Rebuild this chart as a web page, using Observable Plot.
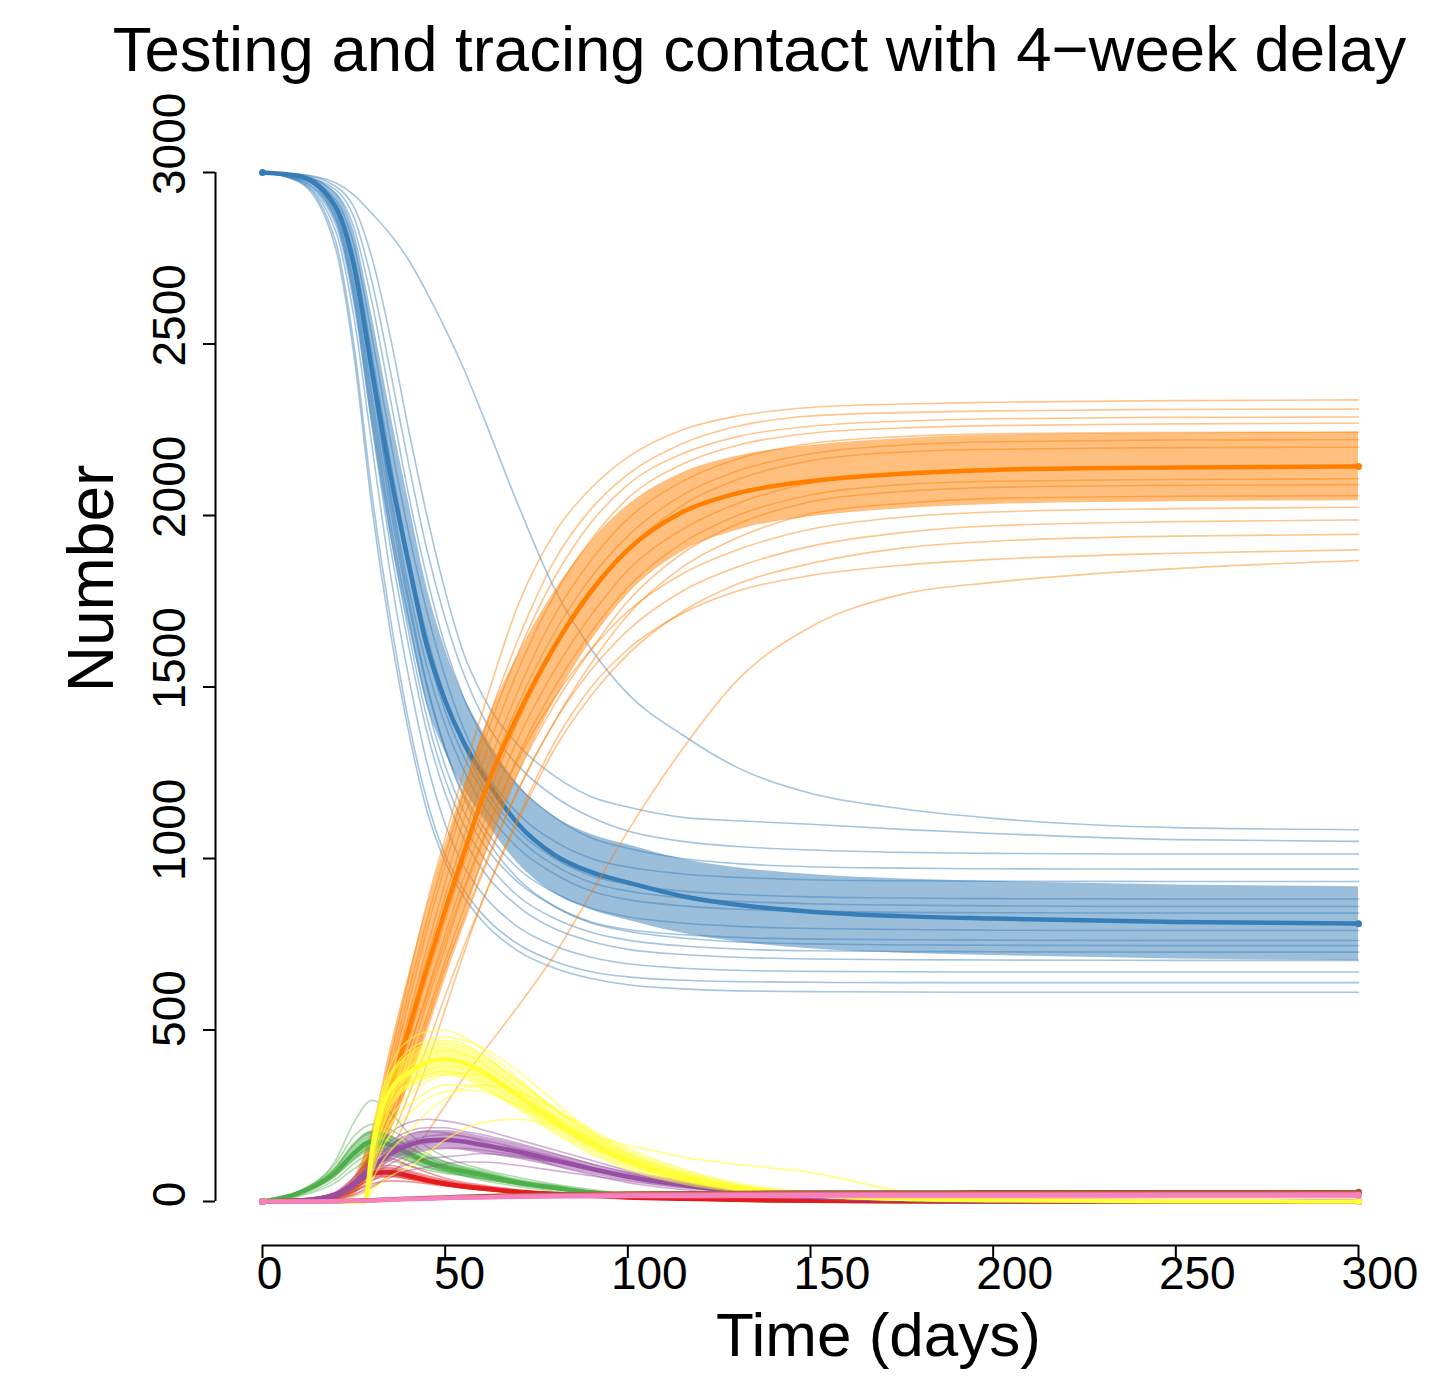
<!DOCTYPE html>
<html>
<head>
<meta charset="utf-8">
<script src="https://cdn.jsdelivr.net/npm/d3@7"></script>
<script src="https://cdn.jsdelivr.net/npm/@observablehq/plot@0.6"></script>
<style>
  html, body { margin: 0; padding: 0; background: #ffffff; }
  #chart svg { display: block; }
</style>
</head>
<body>
<div id="chart"></div>
<script>
// Sample days shared by most compartments
const days = [0, 10, 20, 25, 30, 35, 40, 45, 50, 55, 60, 70, 80, 90, 100, 115, 130, 150, 175, 200, 250, 300];
// The yellow compartment only starts once testing begins (day 28)
const yellowDays = [0, 27, 28, 30, 33, 36, 40, 45, 50, 55, 60, 70, 80, 90, 100, 115, 130, 150, 175, 200, 250, 300];

const xTicks = [0, 50, 100, 150, 200, 250, 300];
const yTicks = [0, 500, 1000, 1500, 2000, 2500, 3000];

const titleText = "Testing and tracing contact with 4\u2212week delay";
const xLabel = "Time (days)";
const yLabel = "Number";

// ---- red compartment ----
const redMean = [0, 3, 20, 50, 82, 85, 75, 62, 52, 44, 38, 28, 22, 17, 12, 8, 5, 2, 1, 0, 0, 0];
const redSd = [0, 1, 5, 10, 14, 14, 12, 10, 9, 8, 7, 5, 4, 3, 2, 1, 1, 0, 0, 0, 0, 0];
const redRuns = [
  [0, 4, 28, 70, 120, 125, 105, 85, 68, 56, 48, 34, 25, 18, 12, 7, 4, 2, 1, 0, 0, 0],
  [0, 3, 24, 60, 100, 105, 90, 75, 62, 52, 44, 31, 23, 16, 11, 7, 4, 2, 1, 0, 0, 0],
  [0, 3, 20, 50, 82, 88, 78, 65, 55, 47, 40, 29, 21, 15, 10, 6, 3, 1, 0, 0, 0, 0],
  [0, 2, 15, 38, 65, 72, 66, 57, 49, 42, 36, 26, 19, 14, 9, 5, 3, 1, 0, 0, 0, 0],
  [0, 2, 12, 30, 52, 60, 58, 52, 45, 39, 34, 25, 18, 13, 9, 5, 3, 1, 0, 0, 0, 0],
  [0, 3, 22, 55, 90, 80, 70, 62, 55, 48, 42, 32, 24, 17, 11, 6, 3, 1, 0, 0, 0, 0]
];

// ---- blue compartment ----
const blueMean = [3000, 2990, 2900, 2730, 2420, 2120, 1860, 1620, 1460, 1340, 1250, 1100, 1010, 960, 930, 890, 865, 845, 832, 825, 815, 810];
const blueSd = [0, 4, 40, 100, 160, 180, 180, 170, 150, 135, 125, 115, 112, 110, 110, 108, 108, 108, 108, 108, 108, 108];
const blueRuns = [
  [3000, 2995, 2970, 2935, 2880, 2820, 2745, 2650, 2545, 2430, 2300, 2030, 1785, 1610, 1480, 1360, 1265, 1190, 1145, 1117, 1090, 1084],
  [3000, 2995, 2960, 2900, 2750, 2520, 2250, 2000, 1780, 1600, 1480, 1330, 1240, 1180, 1150, 1120, 1110, 1100, 1085, 1073, 1055, 1050],
  [3000, 2992, 2950, 2870, 2680, 2420, 2150, 1900, 1700, 1540, 1420, 1270, 1180, 1120, 1080, 1050, 1035, 1025, 1018, 1015, 1013, 1013],
  [3000, 2990, 2940, 2840, 2620, 2340, 2060, 1820, 1620, 1470, 1360, 1210, 1120, 1060, 1030, 1000, 985, 976, 972, 970, 969, 969],
  [3000, 2990, 2920, 2790, 2520, 2220, 1950, 1720, 1530, 1380, 1270, 1130, 1050, 1000, 975, 955, 945, 938, 935, 934, 933, 933],
  [3000, 2988, 2910, 2760, 2470, 2160, 1880, 1650, 1470, 1330, 1220, 1080, 1000, 950, 925, 905, 895, 888, 885, 883, 882, 882],
  [3000, 2990, 2905, 2740, 2440, 2120, 1850, 1610, 1430, 1300, 1200, 1060, 980, 930, 905, 885, 875, 868, 864, 862, 860, 860],
  [3000, 2985, 2890, 2710, 2390, 2070, 1790, 1560, 1390, 1260, 1160, 1030, 955, 905, 880, 862, 852, 846, 843, 842, 841, 841],
  [3000, 2985, 2880, 2680, 2350, 2020, 1740, 1500, 1320, 1190, 1100, 970, 900, 855, 830, 812, 802, 796, 793, 791, 790, 790],
  [3000, 2980, 2870, 2660, 2320, 1980, 1700, 1450, 1270, 1140, 1050, 930, 860, 815, 793, 778, 770, 765, 763, 762, 761, 761],
  [3000, 2983, 2900, 2720, 2400, 2050, 1760, 1510, 1320, 1180, 1080, 940, 860, 812, 788, 768, 757, 751, 748, 747, 746, 746],
  [3000, 2980, 2860, 2640, 2290, 1950, 1660, 1410, 1230, 1100, 1010, 890, 825, 785, 762, 745, 736, 731, 729, 728, 727, 727],
  [3000, 2978, 2850, 2620, 2260, 1910, 1620, 1370, 1190, 1060, 970, 860, 795, 758, 735, 720, 712, 707, 705, 704, 703, 703],
  [3000, 2975, 2830, 2580, 2200, 1830, 1530, 1280, 1100, 980, 900, 800, 745, 712, 693, 680, 674, 671, 670, 669, 669, 669],
  [3000, 2975, 2800, 2500, 2060, 1700, 1400, 1170, 1010, 910, 840, 750, 700, 670, 655, 645, 641, 639, 638, 638, 638, 638],
  [3000, 2972, 2780, 2470, 2020, 1660, 1370, 1140, 990, 890, 820, 730, 680, 650, 632, 620, 614, 612, 611, 610, 610, 610]
];

// ---- green compartment ----
const greenMean = [0, 25, 85, 140, 175, 165, 140, 115, 100, 88, 78, 55, 40, 26, 18, 10, 5, 2, 1, 0, 0, 0];
const greenSd = [0, 4, 15, 25, 30, 28, 24, 20, 17, 15, 13, 10, 8, 6, 4, 3, 2, 1, 0, 0, 0, 0];
const greenRuns = [
  [0, 30, 120, 230, 295, 260, 200, 160, 130, 110, 95, 70, 50, 35, 22, 12, 6, 2, 1, 0, 0, 0],
  [0, 28, 110, 190, 225, 210, 175, 140, 115, 98, 85, 62, 45, 30, 20, 11, 5, 2, 1, 0, 0, 0],
  [0, 25, 95, 165, 200, 190, 160, 130, 108, 92, 80, 58, 42, 28, 18, 10, 5, 2, 1, 0, 0, 0],
  [0, 22, 85, 145, 180, 170, 145, 120, 100, 86, 75, 54, 38, 26, 17, 9, 4, 2, 1, 0, 0, 0],
  [0, 20, 75, 125, 160, 150, 130, 108, 92, 80, 70, 50, 36, 24, 15, 8, 4, 1, 0, 0, 0, 0],
  [0, 18, 65, 110, 140, 135, 118, 100, 88, 78, 68, 50, 36, 24, 15, 8, 4, 1, 0, 0, 0, 0],
  [0, 15, 55, 95, 120, 118, 105, 92, 82, 75, 66, 52, 40, 30, 20, 11, 5, 2, 1, 0, 0, 0],
  [0, 24, 100, 170, 205, 180, 140, 110, 90, 75, 62, 44, 30, 20, 13, 7, 3, 1, 0, 0, 0, 0]
];

// ---- purple compartment ----
const purpleMean = [0, 3, 20, 50, 100, 140, 165, 178, 180, 175, 165, 145, 120, 95, 72, 48, 30, 14, 5, 2, 1, 0];
const purpleSd = [0, 1, 5, 12, 20, 25, 28, 28, 27, 26, 25, 22, 19, 16, 13, 10, 7, 4, 2, 1, 0, 0];
const purpleRuns = [
  [0, 3, 25, 70, 140, 200, 230, 240, 235, 225, 210, 180, 150, 120, 90, 60, 38, 18, 6, 2, 0, 0],
  [0, 3, 22, 60, 120, 175, 205, 215, 215, 205, 195, 170, 140, 110, 85, 55, 35, 16, 5, 2, 0, 0],
  [0, 2, 18, 50, 100, 150, 175, 190, 195, 190, 180, 155, 130, 100, 75, 50, 30, 14, 5, 1, 0, 0],
  [0, 2, 15, 40, 90, 130, 160, 170, 175, 175, 170, 150, 125, 100, 80, 52, 33, 15, 5, 1, 0, 0],
  [0, 2, 12, 35, 75, 110, 135, 150, 155, 155, 150, 135, 115, 92, 70, 46, 28, 12, 4, 1, 0, 0],
  [0, 2, 10, 28, 60, 90, 110, 125, 130, 135, 140, 130, 115, 95, 75, 50, 30, 14, 5, 1, 0, 0],
  [0, 1, 8, 20, 45, 70, 90, 100, 110, 115, 115, 105, 90, 75, 60, 40, 25, 10, 3, 1, 0, 0],
  [0, 3, 20, 55, 110, 165, 195, 205, 200, 190, 175, 140, 105, 78, 55, 35, 20, 9, 3, 1, 0, 0]
];

// ---- orange compartment ----
const orangeMean = [0, 2, 15, 45, 150, 330, 500, 680, 850, 1010, 1170, 1420, 1620, 1780, 1900, 2010, 2065, 2100, 2122, 2133, 2140, 2143];
const orangeSd = [0, 2, 10, 25, 60, 120, 160, 180, 190, 195, 190, 175, 160, 145, 130, 115, 108, 104, 102, 101, 100, 100];
const orangeRuns = [
  [0, 0, 20, 60, 200, 420, 650, 870, 1060, 1250, 1420, 1740, 1950, 2080, 2170, 2250, 2290, 2315, 2325, 2330, 2335, 2337],
  [0, 0, 18, 55, 180, 390, 610, 820, 1010, 1190, 1350, 1640, 1870, 2020, 2120, 2210, 2260, 2290, 2300, 2305, 2309, 2310],
  [0, 0, 15, 50, 170, 370, 580, 790, 980, 1160, 1320, 1600, 1820, 1980, 2090, 2180, 2230, 2260, 2275, 2282, 2286, 2287],
  [0, 0, 15, 45, 150, 340, 540, 740, 930, 1110, 1270, 1550, 1770, 1930, 2050, 2150, 2205, 2240, 2255, 2262, 2267, 2269],
  [0, 0, 14, 45, 150, 330, 520, 710, 890, 1060, 1220, 1490, 1710, 1870, 1990, 2100, 2165, 2210, 2230, 2238, 2242, 2243],
  [0, 0, 12, 40, 140, 310, 500, 680, 860, 1030, 1180, 1450, 1660, 1820, 1940, 2060, 2130, 2180, 2205, 2215, 2220, 2221],
  [0, 0, 12, 40, 130, 290, 470, 650, 820, 980, 1130, 1400, 1610, 1770, 1900, 2030, 2105, 2160, 2185, 2193, 2198, 2199],
  [0, 0, 10, 35, 120, 270, 440, 610, 780, 940, 1090, 1350, 1550, 1710, 1840, 1960, 2035, 2095, 2125, 2135, 2140, 2141],
  [0, 0, 10, 35, 110, 250, 410, 580, 740, 900, 1040, 1300, 1500, 1660, 1790, 1920, 2000, 2060, 2090, 2100, 2105, 2107],
  [0, 0, 10, 30, 100, 230, 380, 540, 700, 850, 990, 1250, 1450, 1610, 1750, 1890, 1975, 2040, 2070, 2082, 2088, 2090],
  [0, 0, 9, 30, 95, 210, 350, 500, 660, 810, 950, 1200, 1400, 1570, 1710, 1850, 1935, 2005, 2035, 2050, 2056, 2058],
  [0, 0, 10, 35, 120, 270, 440, 600, 760, 910, 1050, 1290, 1470, 1610, 1720, 1830, 1900, 1960, 1995, 2010, 2020, 2024],
  [0, 0, 10, 30, 100, 220, 370, 520, 680, 820, 960, 1200, 1400, 1550, 1665, 1780, 1850, 1910, 1950, 1970, 1982, 1987],
  [0, 0, 8, 25, 80, 180, 310, 450, 600, 740, 870, 1110, 1320, 1475, 1595, 1720, 1800, 1860, 1905, 1925, 1940, 1945],
  [0, 0, 8, 20, 60, 140, 260, 400, 560, 720, 870, 1120, 1340, 1500, 1610, 1715, 1780, 1825, 1855, 1872, 1890, 1900],
  [0, 0, 5, 15, 40, 80, 130, 200, 280, 360, 430, 570, 720, 900, 1080, 1320, 1520, 1675, 1770, 1805, 1845, 1869]
];

// ---- yellow compartment (sampled on yellowDays) ----
const yellowMean = [0, 0, 0, 150, 280, 340, 375, 405, 415, 405, 380, 310, 235, 170, 120, 70, 40, 20, 8, 4, 1, 0];
const yellowSd = [0, 0, 0, 40, 50, 50, 50, 50, 50, 50, 50, 45, 40, 35, 30, 22, 15, 8, 4, 2, 1, 0];
const yellowRuns = [
  [0, 0, 0, 170, 330, 420, 470, 495, 500, 480, 445, 360, 270, 190, 130, 75, 40, 18, 6, 2, 0, 0],
  [0, 0, 0, 150, 300, 380, 430, 460, 470, 460, 430, 350, 270, 200, 140, 85, 45, 20, 7, 2, 0, 0],
  [0, 0, 0, 140, 270, 340, 390, 425, 440, 430, 405, 330, 250, 180, 125, 70, 38, 16, 5, 1, 0, 0],
  [0, 0, 0, 130, 250, 320, 365, 400, 415, 405, 380, 310, 240, 170, 115, 65, 35, 15, 5, 1, 0, 0],
  [0, 0, 0, 120, 230, 300, 345, 380, 395, 390, 370, 300, 225, 160, 110, 60, 32, 14, 4, 1, 0, 0],
  [0, 0, 0, 100, 200, 260, 310, 350, 370, 375, 365, 310, 245, 185, 135, 80, 45, 20, 7, 2, 0, 0],
  [0, 0, 0, 90, 180, 240, 280, 320, 340, 340, 330, 280, 220, 160, 110, 65, 35, 15, 5, 1, 0, 0],
  [0, 0, 0, 30, 60, 80, 100, 140, 180, 210, 230, 240, 220, 190, 165, 130, 108, 85, 30, 8, 0, 0],
  [0, 0, 0, 80, 160, 210, 255, 300, 320, 325, 320, 280, 230, 175, 125, 75, 40, 18, 6, 2, 0, 0],
  [0, 0, 0, 60, 120, 160, 200, 260, 300, 330, 340, 320, 270, 210, 155, 95, 50, 22, 8, 2, 0, 0],
  [0, 0, 0, 160, 310, 390, 440, 470, 480, 470, 450, 380, 290, 205, 140, 80, 42, 18, 6, 2, 0, 0],
  [0, 0, 0, 110, 220, 290, 340, 370, 380, 370, 350, 290, 225, 165, 115, 65, 34, 15, 5, 1, 0, 0]
];

// ---- brown compartment ----
const brownMean = [0, 0, 1, 2, 4, 6, 8, 10, 12, 14, 15, 18, 20, 22, 23, 24, 25, 26, 26, 27, 27, 27];
const brownSd = [0, 0, 1, 1, 1, 2, 2, 2, 2, 3, 3, 3, 3, 3, 3, 3, 3, 3, 3, 3, 3, 3];
const brownRuns = [
  [0, 0, 1, 2, 5, 7, 10, 12, 14, 16, 18, 21, 23, 25, 26, 27, 28, 29, 30, 30, 30, 30],
  [0, 0, 1, 1, 3, 5, 7, 9, 11, 12, 13, 16, 18, 20, 21, 22, 23, 24, 24, 25, 25, 25]
];

// ---- pink compartment ----
const pinkMean = [0, 0, 1, 2, 3, 5, 7, 8, 10, 11, 12, 14, 15, 16, 17, 17, 18, 18, 18, 18, 18, 18];
const pinkSd = [0, 0, 1, 1, 2, 3, 4, 5, 5, 6, 6, 7, 8, 9, 9, 10, 10, 10, 10, 10, 10, 10];
const pinkRuns = [
  [0, 0, 1, 2, 4, 6, 9, 11, 13, 15, 16, 18, 20, 21, 22, 23, 24, 24, 25, 25, 25, 25],
  [0, 0, 1, 1, 2, 4, 6, 7, 9, 10, 11, 13, 14, 15, 16, 17, 17, 18, 18, 18, 18, 18],
  [0, 0, 0, 1, 2, 3, 5, 6, 8, 9, 10, 11, 12, 12, 12, 12, 12, 12, 12, 12, 12, 12]
];

// Drawing order: each compartment draws its runs, then its band, then its mean
const compartments = [
  {color: "#377EB8", xs: days, runs: blueRuns, mean: blueMean, sd: blueSd, runOpacity: 0.45},
  {color: "#FF7F00", xs: days, runs: orangeRuns, mean: orangeMean, sd: orangeSd, runOpacity: 0.45},
  {color: "#4DAF4A", xs: days, runs: greenRuns, mean: greenMean, sd: greenSd, runOpacity: 0.45},
  {color: "#E41A1C", xs: days, runs: redRuns, mean: redMean, sd: redSd, runOpacity: 0.45},
  {color: "#984EA3", xs: days, runs: purpleRuns, mean: purpleMean, sd: purpleSd, runOpacity: 0.45},
  {color: "#FFFF33", xs: yellowDays, runs: yellowRuns, mean: yellowMean, sd: yellowSd, runOpacity: 0.6},
  {color: "#A65628", xs: days, runs: brownRuns, mean: brownMean, sd: brownSd, runOpacity: 0.4},
  {color: "#F781BF", xs: days, runs: pinkRuns, mean: pinkMean, sd: pinkSd, runOpacity: 0.5}
];

const curve = "monotone-x";
const dataMarks = compartments.flatMap(c => {
  const runRows = c.runs.flatMap((r, k) => r.map((v, i) => ({day: c.xs[i], value: v, run: k})));
  const meanRows = c.mean.map((v, i) => ({day: c.xs[i], value: v}));
  const bandRows = c.mean.map((v, i) => ({day: c.xs[i], lo: Math.max(0, v - c.sd[i]), hi: v + c.sd[i]}));
  const ends = [meanRows[0], meanRows[meanRows.length - 1]];
  return [
    Plot.line(runRows, {x: "day", y: "value", z: "run", stroke: c.color, strokeOpacity: c.runOpacity, strokeWidth: 1.6, curve}),
    Plot.areaY(bandRows, {x: "day", y1: "lo", y2: "hi", fill: c.color, fillOpacity: 0.5, curve}),
    Plot.line(meanRows, {x: "day", y: "value", stroke: c.color, strokeWidth: 4.5, curve}),
    Plot.dot(ends, {x: "day", y: "value", fill: c.color, r: 3.5})
  ];
});

// approximate advance width of a tick label (digits are 0.556em wide)
const labelWidth = (t, fs) => String(t).length * 0.556 * fs;
const xFont = 46, yFont = 46;

const xTickLabels = xTicks.map(t => Plot.text([t], {
  x: d => d, text: d => String(d), frameAnchor: "bottom", lineAnchor: "bottom",
  dy: 43, dx: 0.28 * labelWidth(t, xFont), fontSize: xFont, fill: "black"
}));
const yTickLabels = yTicks.map(t => Plot.text([t], {
  y: d => d, text: d => String(d), frameAnchor: "left", lineAnchor: "bottom",
  rotate: -90, textAnchor: "middle", dx: -31, dy: -0.28 * labelWidth(t, yFont), fontSize: yFont, fill: "black"
}));

const chart = Plot.plot({
  width: 1449,
  height: 1384,
  marginLeft: 215,
  marginRight: 91,
  marginTop: 172,
  marginBottom: 139,
  x: {domain: [0, 300], insetLeft: 47},
  y: {domain: [0, 3000], insetBottom: 44},
  style: {fontFamily: "'Liberation Sans', Arial, Helvetica, sans-serif", background: "white", color: "black"},
  marks: [
    ...dataMarks,
    // axis lines and ticks
    Plot.ruleX([0], {y1: 0, y2: 3000, dx: -47, stroke: "black", strokeWidth: 2}),
    Plot.ruleY([0], {x1: 0, x2: 300, dy: 44, stroke: "black", strokeWidth: 2}),
    Plot.axisX(xTicks, {tickSize: 13, tickFormat: () => "", label: null, strokeWidth: 2, stroke: "black"}),
    Plot.axisY(yTicks, {tickSize: 12, tickFormat: () => "", label: null, strokeWidth: 2, stroke: "black"}),
    ...xTickLabels,
    ...yTickLabels,
    // titles
    Plot.text([titleText], {text: d => d, frameAnchor: "top", lineAnchor: "bottom", dx: -27.5, dy: -102, fontSize: 63.5, fill: "black"}),
    Plot.text([yLabel], {text: d => d, frameAnchor: "left", lineAnchor: "bottom", rotate: -90, textAnchor: "middle", dx: -103, dy: -130.5, fontSize: 64, fill: "black"}),
    Plot.text([xLabel], {text: d => d, frameAnchor: "bottom", lineAnchor: "bottom", dx: 91.5, dy: 110, fontSize: 62, fill: "black"})
  ]
});

document.getElementById("chart").appendChild(chart);
</script>
</body>
</html>
